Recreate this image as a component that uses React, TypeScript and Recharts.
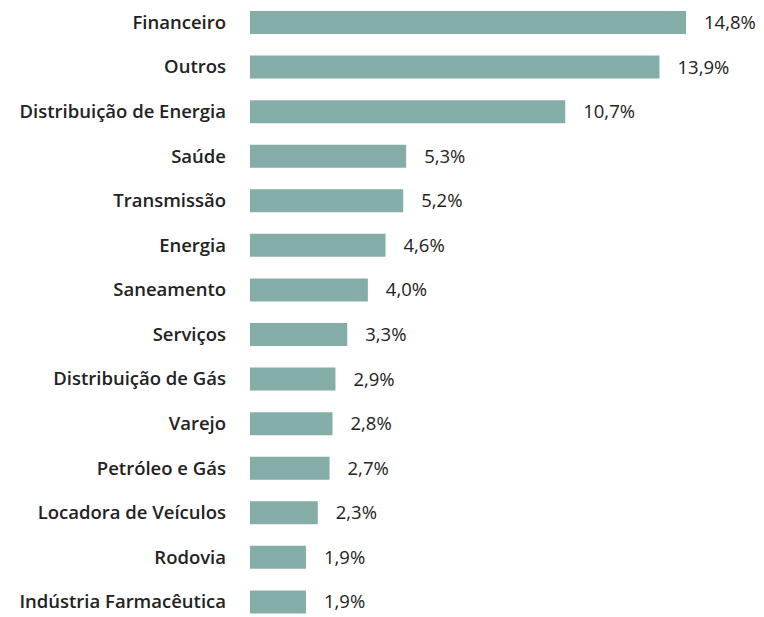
import React from "react";
import { BarChart, Bar, XAxis, YAxis, LabelList } from "recharts";

const setores = [
  "Financeiro",
  "Outros",
  "Distribuição de Energia",
  "Saúde",
  "Transmissão",
  "Energia",
  "Saneamento",
  "Serviços",
  "Distribuição de Gás",
  "Varejo",
  "Petróleo e Gás",
  "Locadora de Veículos",
  "Rodovia",
  "Indústria Farmacêutica",
];
const pesos = [14.8, 13.9, 10.7, 5.3, 5.2, 4.6, 4.0, 3.3, 2.9, 2.8, 2.7, 2.3, 1.9, 1.9];

const data = setores.map((setor, i) => ({ setor, peso: pesos[i] }));

const fonte = "'Open Sans', 'Noto Sans', sans-serif";

export default function App() {
  return (
    <div style={{ position: "absolute", left: 0, top: 0, fontFamily: fonte }}>
      <BarChart
        width={764}
        height={624}
        data={data}
        layout="vertical"
        margin={{ top: 0, right: 78, bottom: 0, left: 0 }}
      >
        <XAxis type="number" domain={[0, 14.8]} hide />
        <YAxis
          type="category"
          dataKey="setor"
          width={250}
          axisLine={false}
          tickLine={false}
          tickSize={0}
          tickMargin={24}
          tick={{ fill: "#222", fontSize: 18.5, fontWeight: 600, fontFamily: fonte }}
        />
        <Bar dataKey="peso" fill="#84ada8" barSize={23} isAnimationActive={false}>
          <LabelList
            dataKey="peso"
            position="right"
            offset={18}
            formatter={(v: number) => v.toFixed(1).replace(".", ",") + "%"}
            style={{ fill: "#222", fontSize: 18.5, fontFamily: fonte }}
          />
        </Bar>
      </BarChart>
    </div>
  );
}
